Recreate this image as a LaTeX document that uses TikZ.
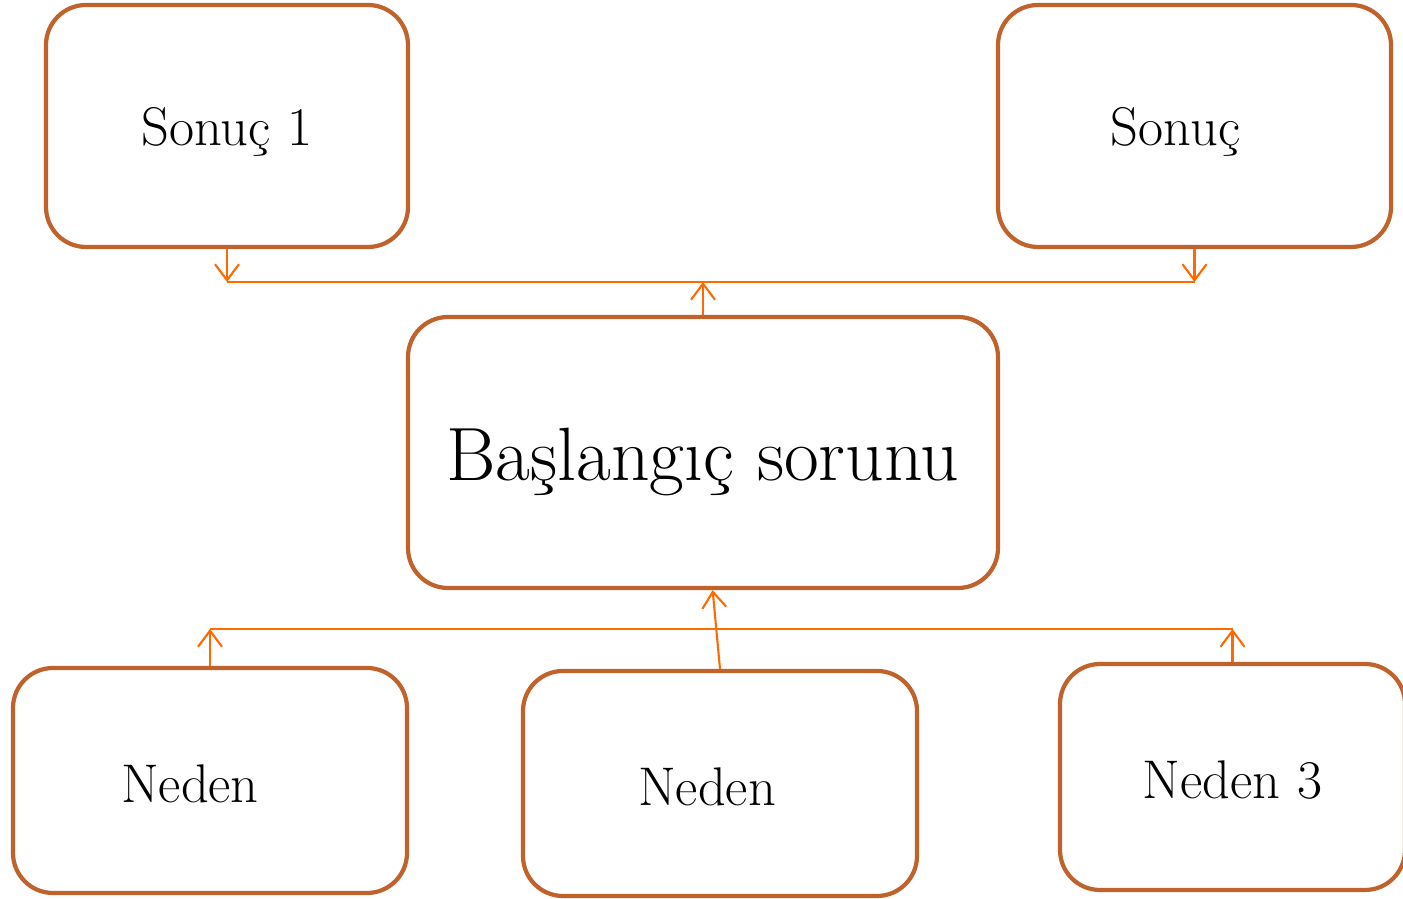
\documentclass[tikz,border=0pt]{standalone}
\usepackage{tikz}
\usetikzlibrary{arrows.meta}
\definecolor{boxline}{HTML}{C0622B}
\definecolor{linkline}{HTML}{FF6A00}
\newcommand{\lowertext}[2]{\raisebox{-#1}[\height][\depth]{#2}}

\begin{document}
\begin{tikzpicture}[
    box/.style={draw=boxline, line width=1.2pt, rounded corners=0.4cm, align=center, font=\fontsize{15.5}{18}\selectfont},
    link/.style={draw=linkline, line width=0.6pt},
    tip/.style={link, -{Straight Barb[length=1.6mm,width=2.4mm]}}
  ]%Edit size here
  \useasboundingbox (0,0) rectangle (14.03,-8.99);

  % boxes
  \node[box, minimum width=3.62cm, minimum height=2.42cm] (res1) at (2.27,-1.26) {\lowertext{0.06cm}{Sonuç 1}};
  \node[box, minimum width=3.93cm, minimum height=2.42cm] (res2) at (11.945,-1.26) {\lowertext{0.06cm}{Sonuç}\hspace*{0.38cm}};
  \node[box, minimum width=5.90cm, minimum height=2.71cm, font=\fontsize{21.5}{26}\selectfont] (prob) at (7.03,-4.525) {\lowertext{0.09cm}{Başlangıç sorunu}};
  \node[box, minimum width=3.94cm, minimum height=2.25cm] (cause1) at (2.10,-7.805) {\lowertext{0.03cm}{Neden}\hspace*{0.40cm}};
  \node[box, minimum width=3.94cm, minimum height=2.25cm] (cause2) at (7.20,-7.835) {\lowertext{0.03cm}{Neden}\hspace*{0.26cm}};
  \node[box, minimum width=3.45cm, minimum height=2.26cm] (cause3) at (12.325,-7.77) {\lowertext{0.03cm}{Neden 3}};

  % top links
  \coordinate (t1) at (2.27,-2.82);
  \coordinate (tm) at (7.03,-2.82);
  \coordinate (t2) at (11.945,-2.82);
  \draw[link] (t1) -- (t2);
  \draw[tip] (res1.south) -- (t1);
  \draw[tip] (res2.south) -- (t2);
  \draw[tip] (prob.north) -- (tm);

  % bottom links
  \coordinate (b1) at (2.10,-6.29);
  \coordinate (b3) at (12.325,-6.29);
  \draw[link] (b1) -- (b3);
  \draw[tip] (cause1.north) -- (b1);
  \draw[tip] (cause3.north) -- (b3);
  \draw[tip] (cause2.north) -- (prob.-86);
\end{tikzpicture}
\end{document}
